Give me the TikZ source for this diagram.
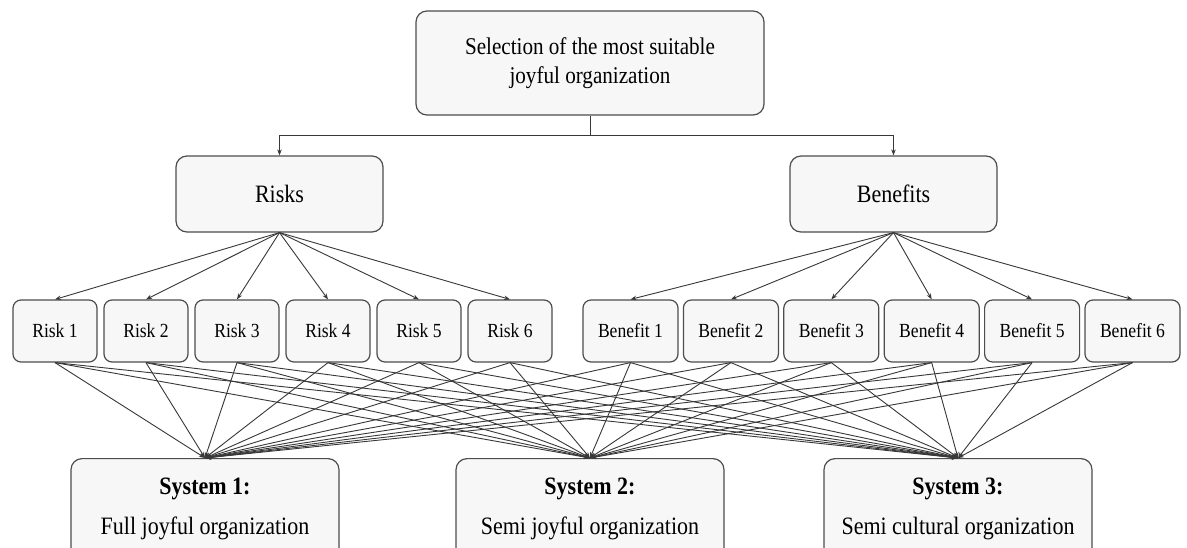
\documentclass[tikz,border=0pt]{standalone}
\usepackage{fontspec}
\setmainfont{Liberation Serif}[FakeStretch=0.88]
\usetikzlibrary{arrows.meta, positioning}
\definecolor{boxfill}{HTML}{F7F7F7}
\definecolor{boxline}{HTML}{4D4D4D}
\definecolor{wirecol}{HTML}{383838}

\begin{document}
\begin{tikzpicture}[
        x = 1pt, y = -1pt, % one unit is one pixel of the picture
        > = {Stealth[length=6pt, width=4.5pt]}, % arrow head style
        line width = 0.9pt,
        every node/.style = {align = center, text = black}
    ]

    \tikzstyle{box}=[
        draw = boxline,
        line width = 1.2pt,
        fill = boxfill,
        rounded corners = 11pt,
        inner sep = 0pt
    ]
    \tikzstyle{small}=[
        box,
        rounded corners = 8pt,
        minimum height = 62pt,
        font = \fontsize{20}{24}\selectfont
    ]
    \tikzstyle{wire}=[draw = wirecol, ->]

    \useasboundingbox (0,0) rectangle (1187,547);
    \clip (0,0) rectangle (1187,547);
    \fill[white] (0,0) rectangle (1187,547);

    \node[box, minimum width = 348pt, minimum height = 104pt,
          font = \fontsize{24}{29}\selectfont] (goal) at (590,63)
          {Selection of the most suitable\\joyful organization};

    \node[box, minimum width = 207pt, minimum height = 76pt,
          font = \fontsize{25}{30}\selectfont] (risks) at (279.5,194) {Risks};
    \node[box, minimum width = 207pt, minimum height = 76pt,
          font = \fontsize{25}{30}\selectfont] (benefits) at (893.5,194) {Benefits};

    \foreach \i in {1,...,6} {
        \node[small, minimum width = 84pt] (r\i) at ({55+91*(\i-1)},331) {Risk \i};
        \node[small, minimum width = 95pt] (b\i) at ({630.5+100.4*(\i-1)},331) {Benefit \i};
    }

    \tikzstyle{system}=[
        box,
        anchor = north,
        minimum width = 268pt,
        minimum height = 100pt,
        font = \fontsize{25}{30}\selectfont
    ]
    \node[system] (s1) at (205,458) {\textbf{System 1:}\\[10pt]Full joyful organization};
    \node[system] (s2) at (590,458) {\textbf{System 2:}\\[10pt]Semi joyful organization};
    \node[system] (s3) at (958,458) {\textbf{System 3:}\\[10pt]Semi cultural organization};

    \coordinate (split) at (590,135);
    \draw[draw = wirecol] (goal.south) -- (split);
    \path[wire] (split) -| (risks.north);
    \path[wire] (split) -| (benefits.north);

    \foreach \i in {1,...,6} {
        \path[wire] (risks.south) -- (r\i.north);
        \path[wire] (benefits.south) -- (b\i.north);
        \foreach \j in {1,2,3} {
            \path[wire] (r\i.south) -- (s\j.north);
            \path[wire] (b\i.south) -- (s\j.north);
        }
    }

\end{tikzpicture}
\end{document}
